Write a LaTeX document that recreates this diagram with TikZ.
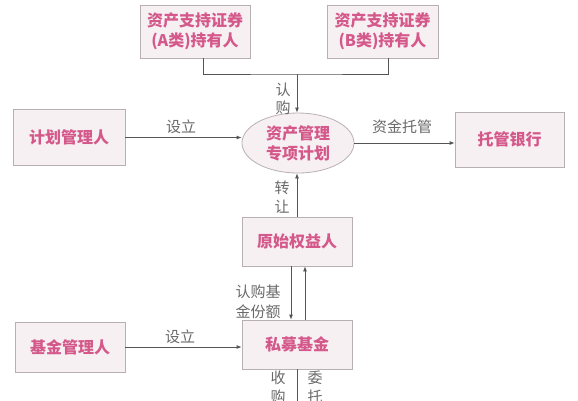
\documentclass[tikz,border=0pt]{standalone}
\usepackage{fontspec}
\setmainfont{Noto Sans CJK SC}
\usetikzlibrary{arrows.meta,calc}
\definecolor{boxfill}{HTML}{F7F0F3}
\definecolor{boxline}{HTML}{B9B0B4}
\definecolor{boxtext}{HTML}{D4588A}
\definecolor{labtext}{HTML}{6A6A6A}
\definecolor{conn}{HTML}{555555}
\tikzset{
  partybox/.style={draw=boxline, fill=boxfill, line width=0.8pt, text=boxtext,
    font=\fontsize{16}{20}\selectfont\bfseries, align=center, inner sep=0pt},
  planell/.style={ellipse, draw=boxline, fill=boxfill, line width=0.8pt, text=boxtext,
    font=\fontsize{16}{20}\selectfont\bfseries, align=center, inner sep=0pt,
    minimum width=112pt, minimum height=60pt},
  lab/.style={text=labtext, font=\fontsize{15}{19}\selectfont, align=center, inner sep=0pt},
  conline/.style={draw=conn, line width=0.8pt},
  arr/.style={conline, -{Latex[length=5pt,width=4pt]}}
}
\usetikzlibrary{shapes.geometric}
\begin{document}
\begin{tikzpicture}[x=1pt,y=-1pt]
\useasboundingbox (0,0) rectangle (578,400);
\clip (0,0) rectangle (578,400);
\fill[white] (0,0) rectangle (578,400);
% nodes
\node[partybox, minimum width=110pt, minimum height=53pt] (A) at (195,31.5) {资产支持证券\\(A类)持有人};
\node[partybox, minimum width=111pt, minimum height=53pt] (B) at (382.5,31.5) {资产支持证券\\(B类)持有人};
\node[partybox, minimum width=112pt, minimum height=56pt] (pm) at (69,137.5) {计划管理人};
\node[planell] (spv) at (298,143) {资产管理\\专项计划};
\node[partybox, minimum width=109pt, minimum height=55pt] (bank) at (509.5,139.5) {托管银行};
\node[partybox, minimum width=110pt, minimum height=49pt] (orig) at (297,241.5) {原始权益人};
\node[partybox, minimum width=110pt, minimum height=49pt] (fund) at (297,344.5) {私募基金};
\node[partybox, minimum width=110pt, minimum height=50pt] (fm) at (70,347) {基金管理人};
\coordinate (j) at (297,74);
\coordinate (bottom) at (297,410);
% connectors
\draw[conline] ([xshift=8pt]A.south) |- (j) -| ([xshift=6pt]B.south);
\draw[arr] (j) -- (j |- spv.north);
\draw[arr] (pm.east) -- (pm.east -| spv.west);
\draw[arr] (spv.east) -- (spv.east -| bank.west);
\draw[arr] (orig.north) -- (orig.north |- spv.south);
\draw[arr] ([xshift=-6pt]orig.south) -- ([xshift=-6pt]fund.north);
\draw[arr] ([xshift=8pt]fund.north) -- ([xshift=8pt]orig.south);
\draw[arr] (fm.east) -- (fm.east -| fund.west);
\draw[conline] (fund.south) -- (bottom);
% labels
\node[lab, font=\fontsize{15}{18}\selectfont] (l1) at (283,99) {认\\购};
\node[lab] (l2) at (181,127) {设立};
\node[lab] (l3) at (402,127) {资金托管};
\node[lab] (l4) at (282,197.5) {转\\让};
\node[lab, font=\fontsize{15}{20}\selectfont] (l5) at (258,302) {认购基\\金份额};
\node[lab] (l6) at (180,337) {设立};
\node[lab] (l7) at (278,387.5) {收\\购};
\node[lab] (l8) at (315,387.5) {委\\托};
\end{tikzpicture}
\end{document}
